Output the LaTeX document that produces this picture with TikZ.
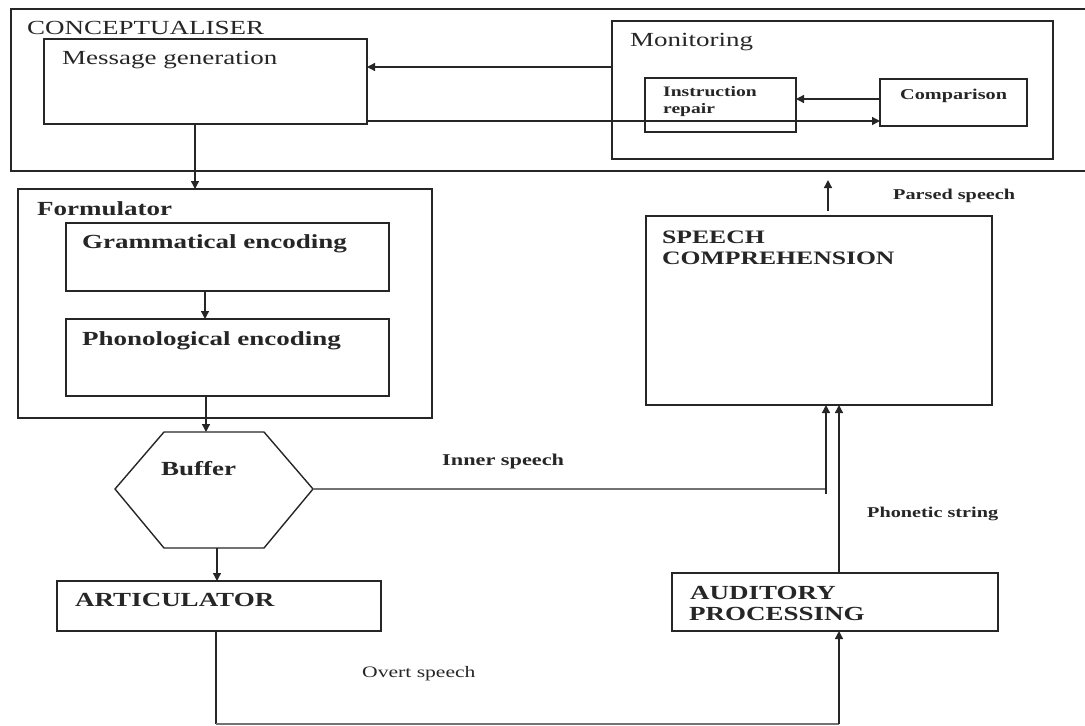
\documentclass[tikz,border=0pt]{standalone}
\usepackage{fontspec}
\setmainfont{Liberation Serif}[FakeStretch=1.35]
\usetikzlibrary{arrows.meta,calc}
\tikzset{
  box/.style={draw=black!85, line width=1.4pt, inner sep=0pt, outer sep=0pt, anchor=north west},
  conn/.style={draw=black!85, line width=1.4pt},
  thinconn/.style={draw=black!55, line width=1.2pt},
  arr/.style={-{Triangle[length=8pt,width=8pt]}},
  big/.style={anchor=base west, inner sep=0pt, text=black!85, font=\fontsize{20}{22}\selectfont},
  bigb/.style={anchor=base west, inner sep=0pt, text=black!85, font=\fontsize{20}{22}\selectfont\bfseries},
  small/.style={anchor=base west, inner sep=0pt, text=black!85, font=\fontsize{15}{17}\selectfont\bfseries},
}
\begin{document}
\begin{tikzpicture}[x=1pt,y=-1pt]
\useasboundingbox (0,0) rectangle (1085,726);
% boxes
\node[box, minimum width=1090pt, minimum height=162pt] (concept) at (11,9) {};
\node[box, minimum width=323pt, minimum height=85pt] (mg) at (44,39) {};
\node[box, minimum width=441pt, minimum height=138pt] (mon) at (612,21) {};
\node[box, minimum width=151pt, minimum height=54pt] (ir) at (645,78) {};
\node[box, minimum width=147pt, minimum height=47pt] (comp) at (880,79) {};
\node[box, minimum width=414pt, minimum height=229pt] (form) at (18,189) {};
\node[box, minimum width=323pt, minimum height=68pt] (gram) at (66,223) {};
\node[box, minimum width=323pt, minimum height=77pt] (phon) at (66,319) {};
\node[box, minimum width=324pt, minimum height=50pt] (artic) at (57,581) {};
\node[box, minimum width=346pt, minimum height=189pt] (sc) at (646,216) {};
\node[box, minimum width=326pt, minimum height=58pt] (aud) at (672,573) {};
% buffer hexagon
\coordinate (bufNW) at (164,432);
\coordinate (bufNE) at (264,432);
\coordinate (bufE) at (313,489);
\coordinate (bufSE) at (264,548);
\coordinate (bufSW) at (164,548);
\coordinate (bufW) at (115,489);
\draw[conn, line join=miter] (bufNW) -- (bufNE) -- (bufE) -- (bufSE) -- (bufSW) -- (bufW) -- cycle;
% texts
\node[big] (tconcept) at (27,34) {CONCEPTUALISER};
\node[big] (tmg) at (62,64) {Message generation};
\node[big] (tmon) at (630,46) {Monitoring};
\node[small, align=left, anchor=north west, font=\fontsize{14.5}{17}\selectfont\bfseries] (tir) at (663,86) {Instruction\\repair};
\node[small] (tcomp) at (900,99) {Comparison};
\node[bigb] (tform) at (37,215) {Formulator};
\node[bigb] (tgram) at (82,248) {Grammatical encoding};
\node[bigb] (tphon) at (82,345) {Phonological encoding};
\node[bigb] (tbuf) at (161,475) {Buffer};
\node[bigb] (tartic) at (75,606) {ARTICULATOR};
\node[bigb, font=\fontsize{19}{21}\selectfont\bfseries] (tsc1) at (662,243) {SPEECH};
\node[bigb, font=\fontsize{19}{21}\selectfont\bfseries] (tsc2) at (662,264) {COMPREHENSION};
\node[bigb] (taud1) at (690,599) {AUDITORY};
\node[bigb] (taud2) at (689,620) {PROCESSING};
\node[small, font=\fontsize{16.5}{18}\selectfont\bfseries] (tinner) at (442,465) {Inner speech};
\node[small] (tparsed) at (893,199) {Parsed speech};
\node[small] (tphonetic) at (867,517) {Phonetic string};
\node[small, font=\fontsize{16}{18}\selectfont] (tovert) at (362,677) {Overt speech};
% connectors
\draw[conn, arr] (mon.west |- 0,67) -- (mg.east |- 0,67);
\draw[conn, arr] (comp.west |- 0,99) -- (ir.east |- 0,99);
\draw[conn, arr] (mg.east |- 0,121) -- (comp.west |- 0,121);
\draw[conn, arr] (195,0 |- mg.south) -- (195,0 |- form.north);
\draw[conn, arr] (205,0 |- gram.south) -- (205,0 |- phon.north);
\draw[conn, arr] (206,0 |- phon.south) -- (206,0 |- bufNW);
\draw[conn, arr] (217,0 |- bufSW) -- (217,0 |- artic.north);
\coordinate (innerEnd) at (826,489);
\draw[thinconn] (bufE) -- (innerEnd);
\draw[conn, arr] (826,494) -- (826,0 |- sc.south);
\draw[conn, arr] (839,0 |- aud.north) -- (839,0 |- sc.south);
\coordinate (overtL) at (216,724);
\coordinate (overtR) at (839,724);
\draw[conn] (216,0 |- artic.south) -- (overtL);
\draw[thinconn] (overtL) -- (overtR);
\draw[conn, arr] (overtR) -- (839,0 |- aud.south);
\coordinate (parsedS) at (828,211);
\coordinate (parsedN) at (828,180);
\draw[conn, arr] (parsedS) -- (parsedN);
\end{tikzpicture}
\end{document}
